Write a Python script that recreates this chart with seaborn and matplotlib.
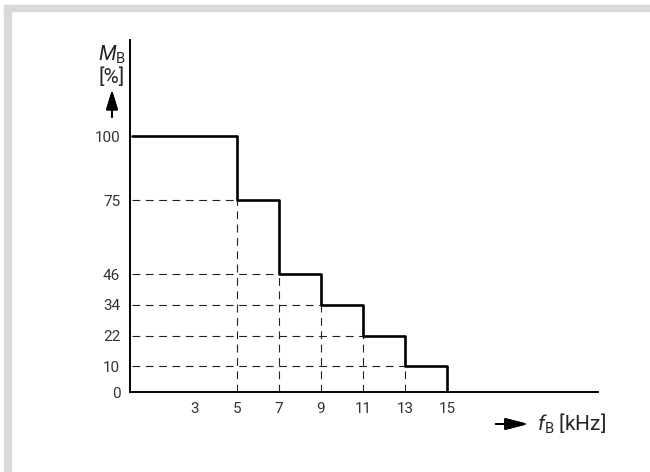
import matplotlib
matplotlib.use("Agg")
import matplotlib.pyplot as plt
from matplotlib.patches import Rectangle
import pandas as pd
import seaborn as sns

# step corners: frequency f_B [kHz] and braking torque M_B [%]
freq = [0, 5, 7, 9, 11, 13, 15]
torque = [100, 75, 46, 34, 22, 10, 0]
x_ticks = [3, 5, 7, 9, 11, 13, 15]
y_ticks = [0, 10, 22, 34, 46, 75, 100]

sns.set_style("white")
plt.rcParams["font.family"] = ["Roboto", "DejaVu Sans"]
plt.rcParams["mathtext.fontset"] = "custom"
plt.rcParams["mathtext.rm"] = "Roboto"
plt.rcParams["mathtext.it"] = "Roboto:italic"

df = pd.DataFrame({"f": freq, "M": torque})

fig = plt.figure(figsize=(6.5, 4.72), dpi=100)
ax = fig.add_axes([130 / 650, 80 / 472, 468 / 650, 352 / 472])

# light grey frame on top and left
fig.patches.append(Rectangle((4 / 650, 0), 7 / 650, 467 / 472, transform=fig.transFigure,
                             color="#d9d9d9", zorder=0))
fig.patches.append(Rectangle((4 / 650, 461 / 472), 646 / 650, 6 / 472, transform=fig.transFigure,
                             color="#d9d9d9", zorder=0))

# dashed guide lines to each step corner
for i in range(1, len(freq) - 1):
    ax.plot([0, freq[i]], [torque[i], torque[i]], color="#222222", lw=0.8,
            dashes=(7, 5), zorder=1)
    ax.plot([freq[i], freq[i]], [0, torque[i]], color="#222222", lw=0.8,
            dashes=(7, 5), zorder=1)

sns.lineplot(data=df, x="f", y="M", drawstyle="steps-post", color="black",
             linewidth=1.9, estimator=None, ax=ax, zorder=3)

ax.set_xlim(-0.1, 22.2)
ax.set_ylim(0, 137.5)
ax.set_xticks(x_ticks)
ax.set_yticks(y_ticks)
ax.tick_params(length=0, labelsize=11, colors="#333333", pad=7)
ax.set_xlabel("")
ax.set_ylabel("")
sns.despine(ax=ax)
for s in ("left", "bottom"):
    ax.spines[s].set_color("black")
    ax.spines[s].set_linewidth(1.4)

# axis titles with arrows
fig.text(112 / 650, 1 - 55 / 472, r"$M_\mathrm{B}$", ha="center", va="center", fontsize=15)
fig.text(112 / 650, 1 - 77 / 472, "[%]", ha="center", va="center", fontsize=15)
fig.add_artist(plt.annotate("", xy=(112 / 650, 1 - 87 / 472), xytext=(112 / 650, 1 - 120 / 472),
                            xycoords="figure fraction",
                            arrowprops=dict(arrowstyle="-|>,head_length=0.6,head_width=0.18",
                                            color="black", lw=1.3, mutation_scale=20)))
fig.add_artist(plt.annotate("", xy=(531 / 650, 1 - 424 / 472), xytext=(493 / 650, 1 - 424 / 472),
                            xycoords="figure fraction",
                            arrowprops=dict(arrowstyle="-|>,head_length=0.7,head_width=0.18",
                                            color="black", lw=1.3, mutation_scale=20)))
fig.text(537 / 650, 1 - 424 / 472, r"$f_\mathrm{B}$" + " [kHz]", ha="left", va="center", fontsize=15)

fig.savefig("out.png", dpi=100)
